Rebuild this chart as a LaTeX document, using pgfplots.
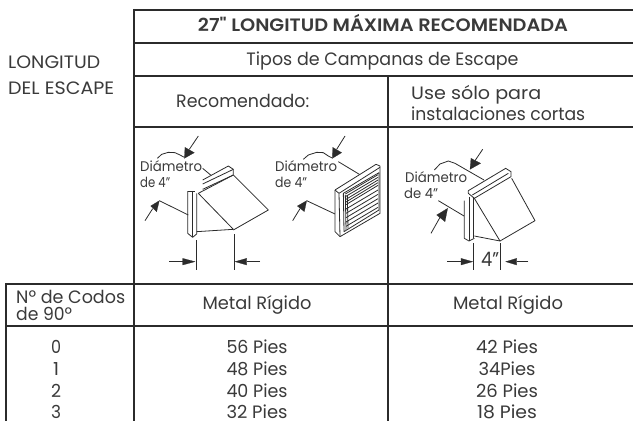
\documentclass[border=0pt]{standalone}
\usepackage{fontspec}
\usepackage{graphicx}
\setmainfont{Poppins}
\newfontfamily\tbf{Poppins SemiBold}
\usepackage{pgfplots}
\pgfplotsset{compat=1.18}
\definecolor{ink}{HTML}{2B2B2B}
\definecolor{txt}{HTML}{3A3A3A}
\pgfplotsset{
 ln/.style={ink,line width=0.8bp,no marks,line join=round},
 tb/.style={ink,line width=2bp,no marks},
 hd/.style={ink,fill=ink,line width=0.2bp,no marks},
}
\newcommand\T[1]{\addplot[tb] table[header=false,row sep=\\]{#1};}
\newcommand\A[1]{\addplot[ln] table[x expr=140+\thisrowno{0}/3,y expr=130+\thisrowno{1}/3,header=false,row sep=\\]{#1};}
\newcommand\B[1]{\addplot[ln] table[x expr=385+\thisrowno{0}/3,y expr=130+\thisrowno{1}/3,header=false,row sep=\\]{#1};}
\newcommand\Ah[1]{\addplot[hd] table[x expr=140+\thisrowno{0}/3,y expr=130+\thisrowno{1}/3,header=false,row sep=\\]{#1} -- cycle;}
\newcommand\Bh[1]{\addplot[hd] table[x expr=385+\thisrowno{0}/3,y expr=130+\thisrowno{1}/3,header=false,row sep=\\]{#1} -- cycle;}
\newcommand\tx[5][base]{\node[anchor=#1,inner sep=0pt,text=txt,font=\fontsize{#4}{#4}\selectfont] at (axis cs:#2) {\resizebox{#5bp}{\height}{#3}};}
\begin{document}
\begin{tikzpicture}
\begin{axis}[scale only axis,width=633bp,height=421bp,xmin=0,xmax=633,ymin=0,ymax=421,y dir=reverse,axis lines=none,clip=true]
% table rules
\T{134 10\\ 633 10\\}
\T{134 42.7\\ 633 42.7\\}
\T{134 75.7\\ 633 75.7\\}
\T{134 127\\ 633 127\\}
\T{5 284\\ 633 284\\}
\T{5 325.5\\ 633 325.5\\}
\T{134 9\\ 134 421\\}
\T{388 76\\ 388 421\\}
\T{5.5 283\\ 5.5 421\\}
% hood 1
\A{143 183\\ 165 183\\}
\A{143 183\\ 143 310\\ 158 322\\ 170 312\\ 170 190\\}
\A{158 183\\ 158 322\\}
\A{175 190\\ 280 298\\ 170 305\\}
\A{188 150\\ 265 108\\ 280 118\\ 280 135\\ 188 178\\}
\A{188 162\\ 280 118\\}
\A{175 190\\ 280 135\\}
\A{280 135\\ 385 240\\ 280 300\\}
\A{175 18\\ 148 58\\}
\Ah{133 85\\ 135 52\\ 163 68\\}
\A{52 85\\ 65 73\\ 85 67\\ 105 68\\ 120 75\\ 133 82\\}
\A{188 115\\ 212 135\\}
\A{15 272\\ 38 236\\}
\Ah{58 212\\ 32 228\\ 50 245\\}
\A{58 212\\ 145 255\\}
\A{168 330\\ 168 420\\}
\A{282 312\\ 282 420\\}
\A{88 395\\ 130 395\\}
\Ah{165 395\\ 128 385\\ 128 405\\}
\A{360 395\\ 320 395\\}
\Ah{285 395\\ 320 385\\ 320 405\\}
% hood 2
\A{585 180\\ 585 305\\ 600 320\\ 720 250\\ 720 108\\ 708 103\\ 585 180\\}
\A{585 180\\ 597 190\\ 720 112\\}
\A{597 190\\ 600 320\\}
\A{610 190\\ 717 128\\ 717 240\\ 612 305\\ 610 190\\}
\A{616 192\\ 714 134\\}
\A{616 200\\ 714 142\\}
\A{618 208\\ 714 150\\}
\A{618 216\\ 714 158\\}
\A{618 224\\ 714 166\\}
\A{618 237\\ 714 180\\}
\A{618 250\\ 714 193\\}
\A{618 263\\ 714 206\\}
\A{618 276\\ 714 219\\}
\A{618 289\\ 714 232\\}
\A{616 195\\ 618 300\\}
\A{622 195\\ 624 296\\}
\A{615 18\\ 590 58\\}
\Ah{577 85\\ 578 52\\ 605 68\\}
\A{490 88\\ 505 75\\ 530 67\\ 550 68\\ 565 78\\ 577 84\\}
\A{595 95\\ 658 133\\}
\A{458 272\\ 480 236\\}
\Ah{500 212\\ 472 228\\ 493 245\\}
\A{500 212\\ 585 252\\}
% hood 3
\B{238 212\\ 238 325\\ 252 333\\ 268 325\\}
\B{252 200\\ 252 333\\}
\B{265 200\\ 265 325\\}
\B{250 182\\ 362 115\\ 378 125\\ 378 140\\ 268 205\\ 250 190\\ 250 182\\}
\B{262 195\\ 370 130\\}
\B{268 205\\ 345 333\\ 268 318\\}
\B{380 145\\ 450 272\\ 345 333\\}
\B{148 120\\ 165 102\\ 190 93\\ 210 100\\ 250 123\\ 297 150\\}
\B{293 58\\ 270 92\\}
\Bh{255 118\\ 258 85\\ 287 100\\}
\B{138 310\\ 165 262\\}
\Bh{188 235\\ 155 255\\ 180 275\\}
\B{160 212\\ 237 258\\}
\B{266 340\\ 266 420\\}
\B{346 340\\ 346 420\\}
\B{187 395\\ 230 395\\}
\Bh{263 395\\ 228 385\\ 228 405\\}
\B{430 395\\ 395 395\\}
\Bh{362 395\\ 395 385\\ 395 405\\}
% text
\tx[base west]{8,69}{LONGITUD}{18}{92}
\tx[base west]{8,94}{DEL ESCAPE}{18}{106}
\tx{383,32}{\tbf 27" LONGITUD MÁXIMA RECOMENDADA}{18}{370}
\tx{382.5,66}{Tipos de Campanas de Escape}{18}{272}
\tx[base west]{176,107}{Recomendado:}{18}{133}
\tx[base west]{411,99}{Use sólo para}{18}{130}
\tx[base west]{411,120}{instalaciones cortas}{18}{174}
\tx[base west]{140,171}{Diámetro}{14}{62}
\tx[base west]{140,187}{de 4"}{14}{30}
\tx[base west]{275,171}{Diámetro}{14}{62}
\tx[base west]{275,187}{de 4"}{14}{32}
\tx[base west]{405,182}{Diámetro}{14}{62}
\tx[base west]{404,198}{de 4"}{14}{34}
\tx[base west]{481,266}{4"}{20}{18}
\tx[base west]{16,303}{Nº de Codos}{18}{109}
\tx[base west]{16,320}{de 90º}{18}{56}
\tx{257,309}{Metal Rígido}{18}{109}
\tx{508,309}{Metal Rígido}{18}{110}
\tx{56,353}{0}{18}{10}\tx{56,375}{1}{18}{6}\tx{56,397}{2}{18}{10}\tx{56,418.5}{3}{18}{10}
\tx{257,353}{56 Pies}{18}{61}\tx{257,375}{48 Pies}{18}{61}\tx{257,397}{40 Pies}{18}{61}\tx{257,418.5}{32 Pies}{18}{61}
\tx{507,353}{42 Pies}{18}{62}\tx{507,375}{34Pies}{18}{57}\tx{507,397}{26 Pies}{18}{62}\tx{507,418.5}{18 Pies}{18}{60}
\end{axis}
\path (0,0) rectangle (633bp,421bp);
\end{tikzpicture}
\end{document}
